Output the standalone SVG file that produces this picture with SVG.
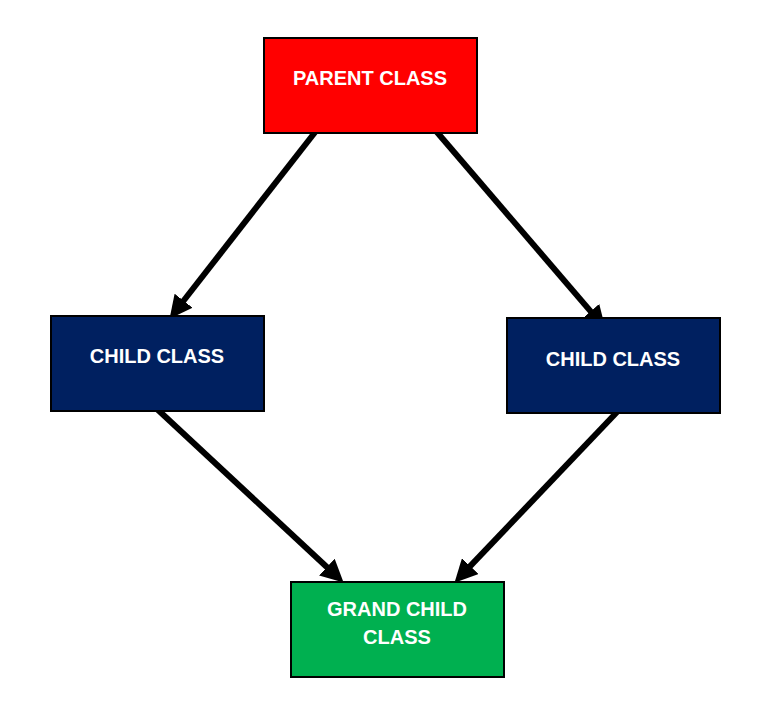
<svg xmlns="http://www.w3.org/2000/svg" width="782" height="708" viewBox="0 0 782 708">
<style>
.box{stroke:#000;stroke-width:2}
.lbl{font-family:"Liberation Sans",Arial,sans-serif;font-weight:bold;font-size:20px;fill:#fff;text-anchor:middle}
.edge{stroke:#000;stroke-width:6;fill:none;marker-end:url(#ah)}
</style>
<defs>
<marker id="ah" viewBox="0 0 10 10" refX="3.5" refY="5" markerWidth="3.8" markerHeight="3.8" orient="auto" markerUnits="strokeWidth">
<path d="M0,0 L10,5 L0,10 z" fill="#000"/>
</marker>
</defs>
<rect width="782" height="708" fill="#fff"/>
<g id="connectors">
<line class="edge" x1="316" y1="131" x2="178.7" y2="307"/>
<line class="edge" x1="436" y1="131" x2="595.8" y2="317.4"/>
<line class="edge" x1="157" y1="409" x2="332.7" y2="572.5"/>
<line class="edge" x1="618" y1="411" x2="464.7" y2="571.9"/>
</g>
<g id="parent">
<rect class="box" x="264" y="38" width="213" height="95" fill="#FF0000"/>
<text class="lbl" x="370" y="85">PARENT CLASS</text>
</g>
<g id="child-left">
<rect class="box" x="51" y="316" width="213" height="95" fill="#002060"/>
<text class="lbl" x="157" y="363">CHILD CLASS</text>
</g>
<g id="child-right">
<rect class="box" x="507" y="318" width="213" height="95" fill="#002060"/>
<text class="lbl" x="613" y="366">CHILD CLASS</text>
</g>
<g id="grandchild">
<rect class="box" x="291" y="582" width="213" height="95" fill="#00B050"/>
<text class="lbl" x="397" y="616">GRAND CHILD</text>
<text class="lbl" x="397" y="644">CLASS</text>
</g>
</svg>
